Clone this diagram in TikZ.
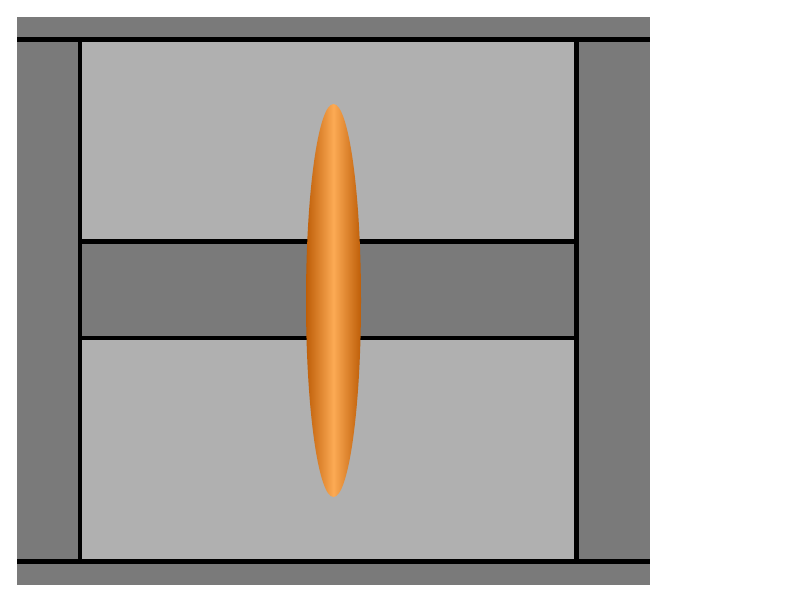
\documentclass[tikz,border=0pt]{standalone}
\usetikzlibrary{positioning}

\definecolor{wallgray}{RGB}{122,122,122}
\definecolor{roomgray}{RGB}{176,176,176}
\definecolor{rodedge}{RGB}{190,94,8}
\definecolor{rodmid}{RGB}{252,170,84}

\begin{document}
\begin{tikzpicture}[x=1pt, y=-1pt,
  wall/.style={fill=wallgray, draw=none},
  room/.style={fill=roomgray, draw=none},
  edge/.style={line width=4.5pt, black},
  rod/.style={left color=rodedge, right color=rodedge, middle color=rodmid, draw=none}]
\useasboundingbox (0,0) rectangle (800,600);
% frame and chamber
\fill[wall] (17,17) rectangle (650,585);
\fill[room] (80,40) rectangle (576,561);
\fill[wall] (80,241.5) rectangle (576,338);
% borders
\draw[edge] (17,39.5) -- (650,39.5);
\draw[edge] (17,561.5) -- (650,561.5);
\draw[edge] (80,39.5) -- (80,561.5);
\draw[edge] (576.5,39.5) -- (576.5,559);
\draw[edge] (80,241.5) -- (576.5,241.5);
\draw[edge] (80,338) -- (574,338);
% rod
\shade[rod] (333.5,300.5) ellipse [x radius=27.5, y radius=196.5];
\end{tikzpicture}
\end{document}
